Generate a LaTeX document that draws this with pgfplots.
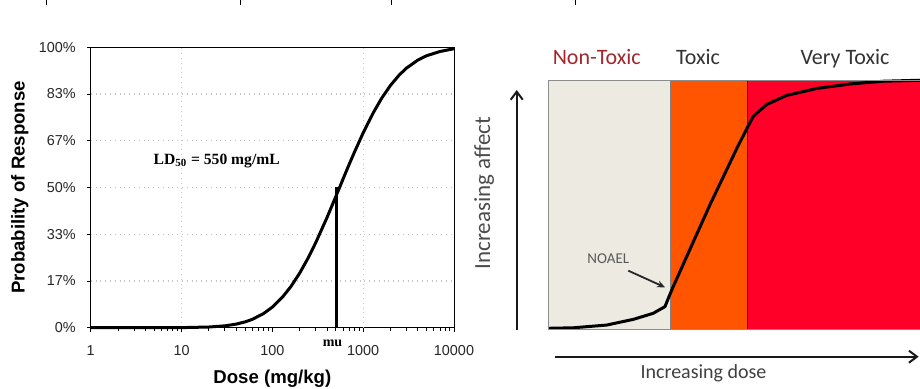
\documentclass[border=0pt]{standalone}
\usepackage{pgfplots}
\pgfplotsset{compat=1.18}
\usepackage{fontspec}
\setmainfont{Liberation Sans}
\newfontfamily\serif{Liberation Serif}
\newfontfamily\carlito{Carlito}
\usetikzlibrary{arrows.meta}
\definecolor{nontox}{HTML}{ECEAE1}
\definecolor{tox}{HTML}{FF5500}
\definecolor{vtox}{HTML}{FF0028}
\definecolor{darkred}{HTML}{A3262C}
\definecolor{gridgray}{HTML}{C4C4C4}
\begin{document}
\begin{tikzpicture}
\useasboundingbox (0,0) rectangle (460pt,194.5pt);
% ---------------- left panel ----------------
\begin{axis}[
  at={(45.35pt,30.65pt)}, anchor=south west,
  scale only axis, width=181.65pt, height=140.2pt,
  xmode=log, log basis x=10,
  xmin=1, xmax=10000, ymin=0, ymax=1,
  xtick={1,10,100,1000,10000},
  xticklabels={1,10,100,1000,10000},
  minor xtick={2,3,4,5,6,7,8,9,20,30,40,50,60,70,80,90,200,300,400,500,600,700,800,900,2000,3000,4000,5000,6000,7000,8000,9000},
  ytick={0,0.16667,0.33333,0.5,0.66667,0.83333,1},
  yticklabels={0\%,17\%,33\%,50\%,67\%,83\%,100\%},
  ymajorgrids,
  extra x ticks={10,1000}, extra x tick labels={},
  extra x tick style={grid=major, major tick length=0pt},
  grid style={gridgray, dotted, line width=0.6pt},
  tick align=outside, tick pos=left,
  major tick length=2pt, minor tick length=1.5pt,
  tick style={black, line width=0.4pt},
  axis line style={line width=0.5pt},
  /pgf/number format/assume math mode=true,
  tick label style={font=\fontsize{7.2}{8}\selectfont, text=black!85},
  yticklabel style={xshift=-2pt},
  xticklabel style={yshift=-3.5pt},
  xlabel={Dose (mg/kg)}, ylabel={Probability of Response},
  label style={font=\bfseries\fontsize{9.3}{11}\selectfont},
  xlabel style={at={(axis description cs:0.5,-0.183)}, anchor=center},
  ylabel style={at={(axis description cs:-0.195,0.5)}, anchor=center},
  clip=false,
]
\addplot[black, line width=1.5pt, line join=round] coordinates {
(1,0) (10,0.0003) (20,0.0024) (30,0.0066) (40,0.0128) (50,0.0206) (60,0.0296)
(80,0.0504) (100,0.0734) (130,0.110) (160,0.1466) (200,0.1946) (250,0.251)
(300,0.303) (400,0.393) (500,0.468) (550,0.5) (600,0.530) (700,0.582)
(800,0.6255) (1000,0.695) (1300,0.768) (1600,0.8186) (2000,0.8643)
(2500,0.9015) (3000,0.9258) (4000,0.9545) (5000,0.970) (7000,0.9849) (10000,0.995)
};
\addplot[black, line width=1.5pt] coordinates {(512,0) (512,0.5)};
\end{axis}
% ---------------- right panel ----------------
\begin{axis}[
  at={(274.15pt,29.85pt)}, anchor=south west,
  scale only axis, width=185.85pt, height=124.65pt,
  xmin=0, xmax=100, ymin=0, ymax=100,
  ticks=none, axis on top,
  axis line style={black!45, line width=0.4pt},
  clip=false,
]
\addplot[fill=nontox, draw=none] coordinates {(0,100) (32.9,100)} \closedcycle;
\addplot[fill=tox, draw=none] coordinates {(32.9,100) (53.5,100)} \closedcycle;
\addplot[fill=vtox, draw=none] coordinates {(53.5,100) (100,100)} \closedcycle;
\addplot[black!50, line width=0.3pt] coordinates {(32.9,0) (32.9,100)};
\addplot[black!55!red, line width=0.3pt] coordinates {(53.5,0) (53.5,100)};
\addplot[black, line width=1.5pt, line join=round] coordinates {
(0,0.4) (6.7,0.6) (15.7,1.7) (22.9,4.0) (28.2,6.4) (31.4,9.1) (32.3,12.5)
(33.6,17.1) (43.6,50.3) (50.7,72.5) (53.4,80.5) (55.2,85.5) (58.8,90.2)
(64.1,93.8) (72.2,96.6) (81.2,98.4) (90.1,99.5) (100,99.9)
};
\end{axis}
% ---------------- annotations ----------------
\node[font=\serif\bfseries\fontsize{7.8}{9}\selectfont, anchor=base] at (108.35pt,112.35pt) {LD\textsubscript{50} = 550 mg/mL};
\node[font=\serif\bfseries\fontsize{7}{8}\selectfont, anchor=base] at (166.25pt,21.15pt) {mu};
\node[font=\carlito\fontsize{11}{13}\selectfont, text=darkred, anchor=base] at (298.35pt,162.35pt) {Non-Toxic};
\node[font=\carlito\fontsize{11}{13}\selectfont, text=black!80, anchor=base] at (349pt,162.35pt) {Toxic};
\node[font=\carlito\fontsize{11}{13}\selectfont, text=black!80, anchor=base] at (422.5pt,162.35pt) {Very Toxic};
\node[font=\carlito\fontsize{11.5}{13}\selectfont, text=black!70, rotate=90, anchor=base] at (245pt,98pt) {Increasing affect};
\node[font=\carlito\fontsize{10}{12}\selectfont, text=black!75, anchor=base] at (351.75pt,5.35pt) {Increasing dose};
\node[font=\carlito\fontsize{7.5}{9}\selectfont, text=black!65] at (304.15pt,65.35pt) {NOAEL};
\draw[black!85, line width=0.9pt, -{Stealth[length=4pt,width=3.5pt]}] (314.15pt,59.15pt) -- (332.5pt,50.85pt);
\draw[black!90, line width=1pt, -{Straight Barb[length=4pt,width=6pt]}] (258.35pt,29.5pt) -- (258.35pt,149.5pt);
\draw[black!90, line width=1pt, -{Straight Barb[length=4pt,width=6pt]}] (277.5pt,16.15pt) -- (459.3pt,16.15pt);
\foreach \xx in {23,120,195.5,287.5} \draw[line width=0.5pt] (\xx pt,194.5pt) -- (\xx pt,192pt);
\end{tikzpicture}
\end{document}
